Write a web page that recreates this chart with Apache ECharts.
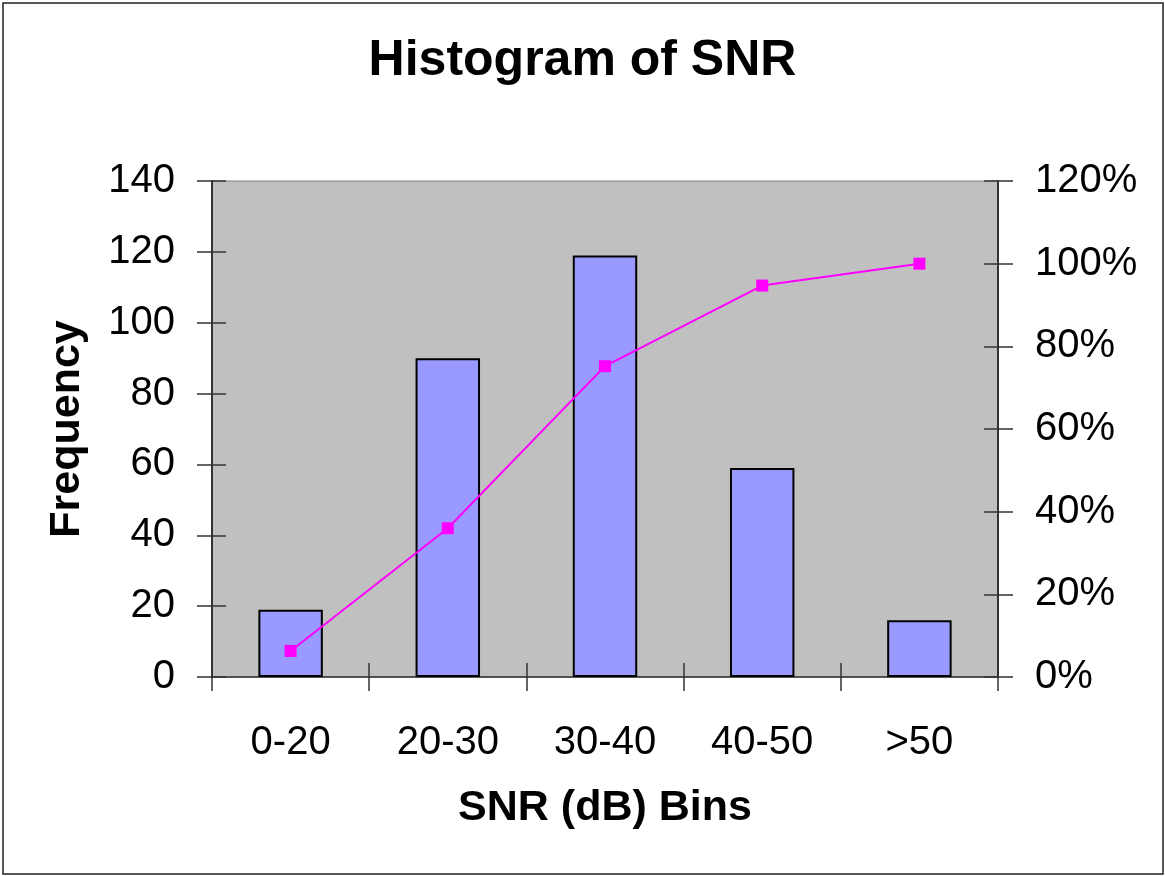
<!DOCTYPE html>
<html>
<head>
<meta charset="utf-8">
<title>Histogram of SNR</title>
<script src="https://cdn.jsdelivr.net/npm/echarts@6/dist/echarts.min.js"></script>
<style>
  html, body { margin: 0; padding: 0; background: #fff; }
  #chart { width: 1165px; height: 876px; }
</style>
</head>
<body>
<div id="chart"></div>
<script>
// values
var bins = ['0-20', '20-30', '30-40', '40-50', '>50'];
var frequency = [19, 90, 119, 59, 16];
var cumulativePct = [6.3, 36.0, 75.2, 94.7, 100];

var fontFam = '"Liberation Sans", Arial, sans-serif';
var axisDark = '#333333';

var chart = echarts.init(document.getElementById('chart'));

// helper for the second set of axes that only draws the inside half of the cross ticks
function innerY(pos, max) {
    return {
        type: 'value', position: pos, min: 0, max: max, interval: 20,
        axisLine: { show: false },
        axisTick: { show: true, inside: true, length: 14, lineStyle: { color: axisDark, width: 1.5 } },
        axisLabel: { show: false },
        splitLine: { show: false }
    };
}

var option = {
    animation: false,
    backgroundColor: '#ffffff',
    title: {
        text: 'Histogram of SNR',
        left: 'center',
        top: 31,
        textStyle: { fontFamily: fontFam, fontSize: 50, fontWeight: 'bold', color: '#000' }
    },
    grid: {
        left: 212, right: 167, top: 181, bottom: 199,
        show: true,
        backgroundColor: '#C0C0C0',
        borderColor: '#808080',
        borderWidth: 1
    },
    xAxis: [
        {
            type: 'category',
            data: bins,
            position: 'bottom',
            name: 'SNR (dB) Bins',
            nameLocation: 'middle',
            nameGap: 110,
            nameTextStyle: { fontFamily: fontFam, fontSize: 43, fontWeight: 'bold', color: '#000' },
            axisLine: { lineStyle: { color: axisDark, width: 1.5 } },
            axisTick: { show: true, length: 14, lineStyle: { color: axisDark, width: 1.5 } },
            axisLabel: { fontFamily: fontFam, fontSize: 40, color: '#000', margin: 46 }
        },
        {
            type: 'category',
            data: bins,
            position: 'bottom',
            axisLine: { show: false },
            axisTick: { show: true, inside: true, length: 14, lineStyle: { color: axisDark, width: 1.5 } },
            axisLabel: { show: false }
        }
    ],
    yAxis: [
        {
            type: 'value',
            position: 'left',
            min: 0, max: 140, interval: 20,
            name: 'Frequency',
            nameLocation: 'middle',
            nameRotate: 90,
            nameGap: 123,
            nameTextStyle: { fontFamily: fontFam, fontSize: 43, fontWeight: 'bold', color: '#000' },
            axisLine: { show: true, lineStyle: { color: axisDark, width: 2 } },
            axisTick: { show: true, length: 15, lineStyle: { color: axisDark, width: 1.5 } },
            axisLabel: { fontFamily: fontFam, fontSize: 40, color: '#000', margin: 37 },
            splitLine: { show: false }
        },
        {
            type: 'value',
            position: 'right',
            min: 0, max: 120, interval: 20,
            axisLine: { show: true, lineStyle: { color: axisDark, width: 2 } },
            axisTick: { show: true, length: 15, lineStyle: { color: axisDark, width: 1.5 } },
            axisLabel: { fontFamily: fontFam, fontSize: 40, color: '#000', margin: 37, formatter: '{value}%' },
            splitLine: { show: false }
        },
        innerY('left', 140),
        innerY('right', 120)
    ],
    series: [
        {
            name: 'Frequency',
            type: 'bar',
            data: frequency,
            barWidth: '41%',
            itemStyle: { color: '#9999FF', borderColor: '#000', borderWidth: 2 }
        },
        {
            name: 'Cumulative %',
            type: 'line',
            yAxisIndex: 1,
            data: cumulativePct,
            symbol: 'rect',
            symbolSize: 12,
            lineStyle: { color: '#FF00FF', width: 2 },
            itemStyle: { color: '#FF00FF' },
            z: 5
        }
    ],
    graphic: [
        {
            type: 'rect',
            shape: { x: 3, y: 3, width: 1160, height: 871 },
            style: { fill: 'none', stroke: '#222', lineWidth: 1.5 },
            silent: true
        }
    ]
};

chart.setOption(option);
</script>
</body>
</html>
